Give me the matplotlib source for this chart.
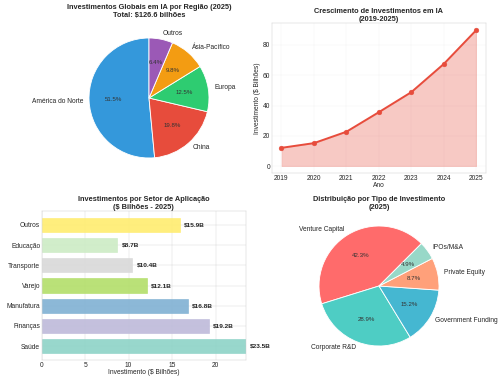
import numpy as np
import matplotlib
matplotlib.use("Agg")
import matplotlib.pyplot as plt

plt.style.use('seaborn-v0_8-whitegrid')

# Regional investment (2025, $ billions)
regions = ['América do Norte', 'China', 'Europa', 'Ásia-Pacífico', 'Outros']
region_values = [65.2, 25.1, 15.8, 12.4, 8.1]
region_colors = ['#3498db', '#e74c3c', '#2ecc71', '#f39c12', '#9b59b6']

# Growth over time
years = [2019, 2020, 2021, 2022, 2023, 2024, 2025]
growth_values = [12.1, 15.2, 22.7, 35.6, 48.8, 67.4, 89.7]

# Sectors
sectors = ['Saúde', 'Finanças', 'Manufatura', 'Varejo', 'Transporte', 'Educação', 'Outros']
sector_values = [23.5, 19.2, 16.8, 12.1, 10.4, 8.7, 15.9]

# Investment types
inv_types = ['Venture Capital', 'Corporate R&D', 'Government Funding', 'Private Equity', 'IPOs/M&A']
inv_values = [42.3, 28.9, 15.2, 8.7, 4.9]
inv_colors = ['#ff6b6b', '#4ecdc4', '#45b7d1', '#ffa07a', '#98d8c8']

W, H = 500, 382
fig = plt.figure(figsize=(16, 12.224), dpi=31.25)

TITLE = 17
LABEL = 15.3


def px_axes(left, top, right, bottom):
    return fig.add_axes([left / W, 1 - bottom / H, (right - left) / W, (bottom - top) / H])


# 1. Pie by region
ax1 = px_axes(74, 23, 224, 173)
ax1.pie(region_values, labels=regions, colors=region_colors, autopct='%1.1f%%',
        startangle=90, wedgeprops=dict(edgecolor='white', linewidth=2),
        textprops=dict(fontsize=LABEL))
for t in ax1.texts:
    if '%' in t.get_text():
        t.set_fontsize(14)
        t.set_color('#333333')
ax1.set_title(f'Investimentos Globais em IA por Região (2025)\nTotal: ${sum(region_values):.1f} bilhões',
              fontsize=TITLE, fontweight='bold', pad=13)

# 2. Growth line
ax2 = px_axes(271.7, 23.3, 486, 173)
ax2.plot(years, growth_values, 'o-', color='#e74c3c', linewidth=4.5, markersize=11)
ax2.fill_between(years, growth_values, alpha=0.3, color='#e74c3c')
ax2.set_title('Crescimento de Investimentos em IA\n(2019-2025)', fontsize=TITLE, fontweight='bold', pad=2)
ax2.set_xlabel('Ano', fontsize=LABEL, labelpad=0)
ax2.set_ylabel('Investimento ($ Bilhões)', fontsize=LABEL)
ax2.tick_params(labelsize=LABEL)
ax2.grid(True, alpha=0.3)

# 3. Sector bars
ax3 = px_axes(41.7, 211, 246, 360)
sector_colors = plt.cm.Set3(np.linspace(0, 1, len(sectors)))
bars = ax3.barh(sectors, sector_values, color=sector_colors, height=0.7, alpha=0.9,
                edgecolor=sector_colors, linewidth=1.5)
for bar, val in zip(bars, sector_values):
    ax3.text(bar.get_width() + 0.5, bar.get_y() + bar.get_height() / 2, f'${val}B',
             va='center', ha='left', fontsize=15, fontweight='bold', clip_on=False)
ax3.set_xlim(0, 23.5)
ax3.set_title('Investimentos por Setor de Aplicação\n($ Bilhões - 2025)', fontsize=TITLE, fontweight='bold', pad=4)
ax3.set_xlabel('Investimento ($ Bilhões)', fontsize=LABEL, labelpad=2)
ax3.tick_params(labelsize=LABEL)

# 4. Pie by investment type
ax4 = px_axes(304, 211, 454, 361)
ax4.pie(inv_values, labels=inv_types, colors=inv_colors, autopct='%1.1f%%',
        startangle=45, wedgeprops=dict(edgecolor='white', linewidth=2),
        textprops=dict(fontsize=LABEL))
for t in ax4.texts:
    if '%' in t.get_text():
        t.set_fontsize(14)
        t.set_color('#333333')
ax4.set_title('Distribuição por Tipo de Investimento\n(2025)', fontsize=TITLE, fontweight='bold', pad=4)

fig.savefig('out.png', dpi=31.25)
